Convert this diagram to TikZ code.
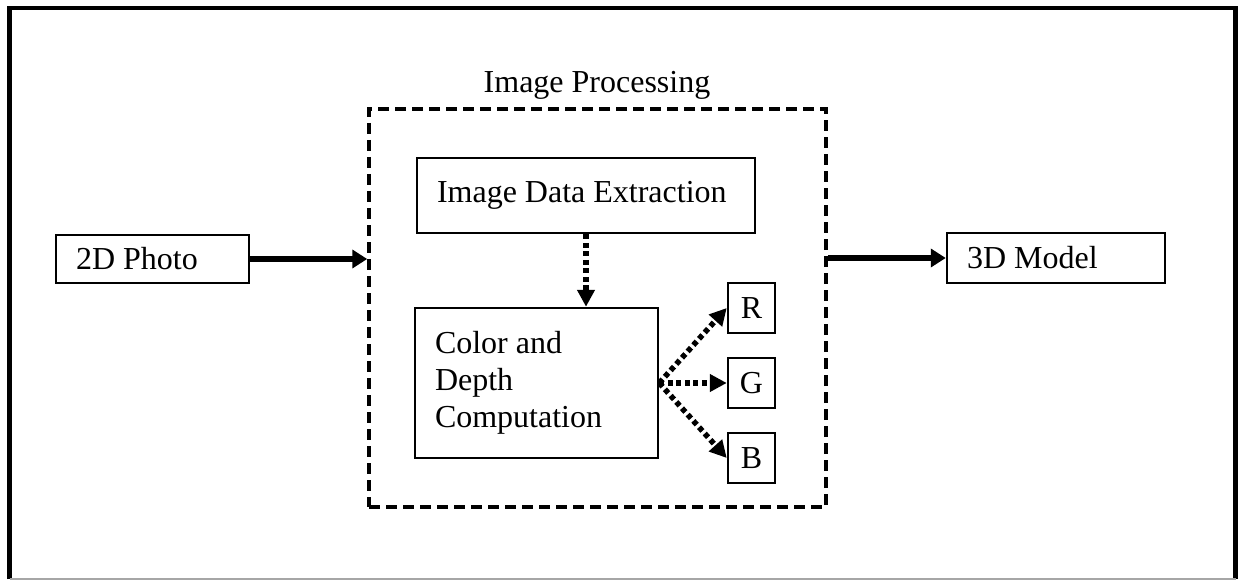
\documentclass[tikz,border=0pt]{standalone}
\usepackage{fontspec}
\setmainfont{Liberation Serif}
\usetikzlibrary{arrows.meta}
\tikzset{
  box/.style={draw, line width=2.5pt, inner xsep=20pt, inner ysep=0pt,
    execute at begin node={\spaceskip=0pt\xspaceskip=0pt\relax}},
  letterbox/.style={draw, line width=2.5pt, minimum width=47pt, minimum height=50pt, inner sep=0pt},
  procbox/.style={draw, line width=3.5pt, dash pattern=on 11pt off 6pt, minimum width=457pt, minimum height=398pt},
  solidarrow/.style={line width=5.5pt, -{Triangle[length=15pt,width=18pt]}},
  dotarrow/.style={line width=5.5pt, dash pattern=on 5pt off 3.5pt, -{Triangle[length=17pt,width=17pt]}},
}
\begin{document}
\begin{tikzpicture}[x=1pt, y=-1pt, font=\fontsize{32}{37}\selectfont]
\useasboundingbox (0,0) rectangle (1242,580);
% outer frame
\draw[line width=4.5pt] (9.5,579) -- (9.5,8) -- (1235.5,8) -- (1235.5,579);
\draw[line width=1.5pt, black!35] (9.5,579) -- (1235.5,579);
% processing area
\node[procbox] (proc) at (597.5,308) {};
\node[anchor=base] (title) at (597,93) {Image Processing};
% boxes
\node[box, text width=153pt, minimum height=48pt] (photo) at (152.5,259) {2D Photo};
\node[box, text width=178pt, minimum height=50pt] (model) at (1056,258) {3D Model};
\node[box, text width=298pt, minimum height=75pt] (ide) at (586,195.5) {Image Data Extraction};
\node[box, text width=203pt, minimum height=150pt] (color) at (536.5,383) {Color and\\Depth\\Computation};
\node[letterbox] (R) at (751.5,308) {R};
\node[letterbox] (G) at (751.5,383) {G};
\node[letterbox] (B) at (751.5,458) {B};
% connectors
\draw[solidarrow] (photo.east) -- (photo.east -| proc.west);
\draw[solidarrow] (proc.east |- model.west) -- (model.west);
\draw[dotarrow] (ide.south) -- (ide.south |- color.north);
\draw[dotarrow] (color.east) -- (R.west);
\draw[dotarrow] (color.east) -- (G.west);
\draw[dotarrow] (color.east) -- (B.west);
\end{tikzpicture}
\end{document}
